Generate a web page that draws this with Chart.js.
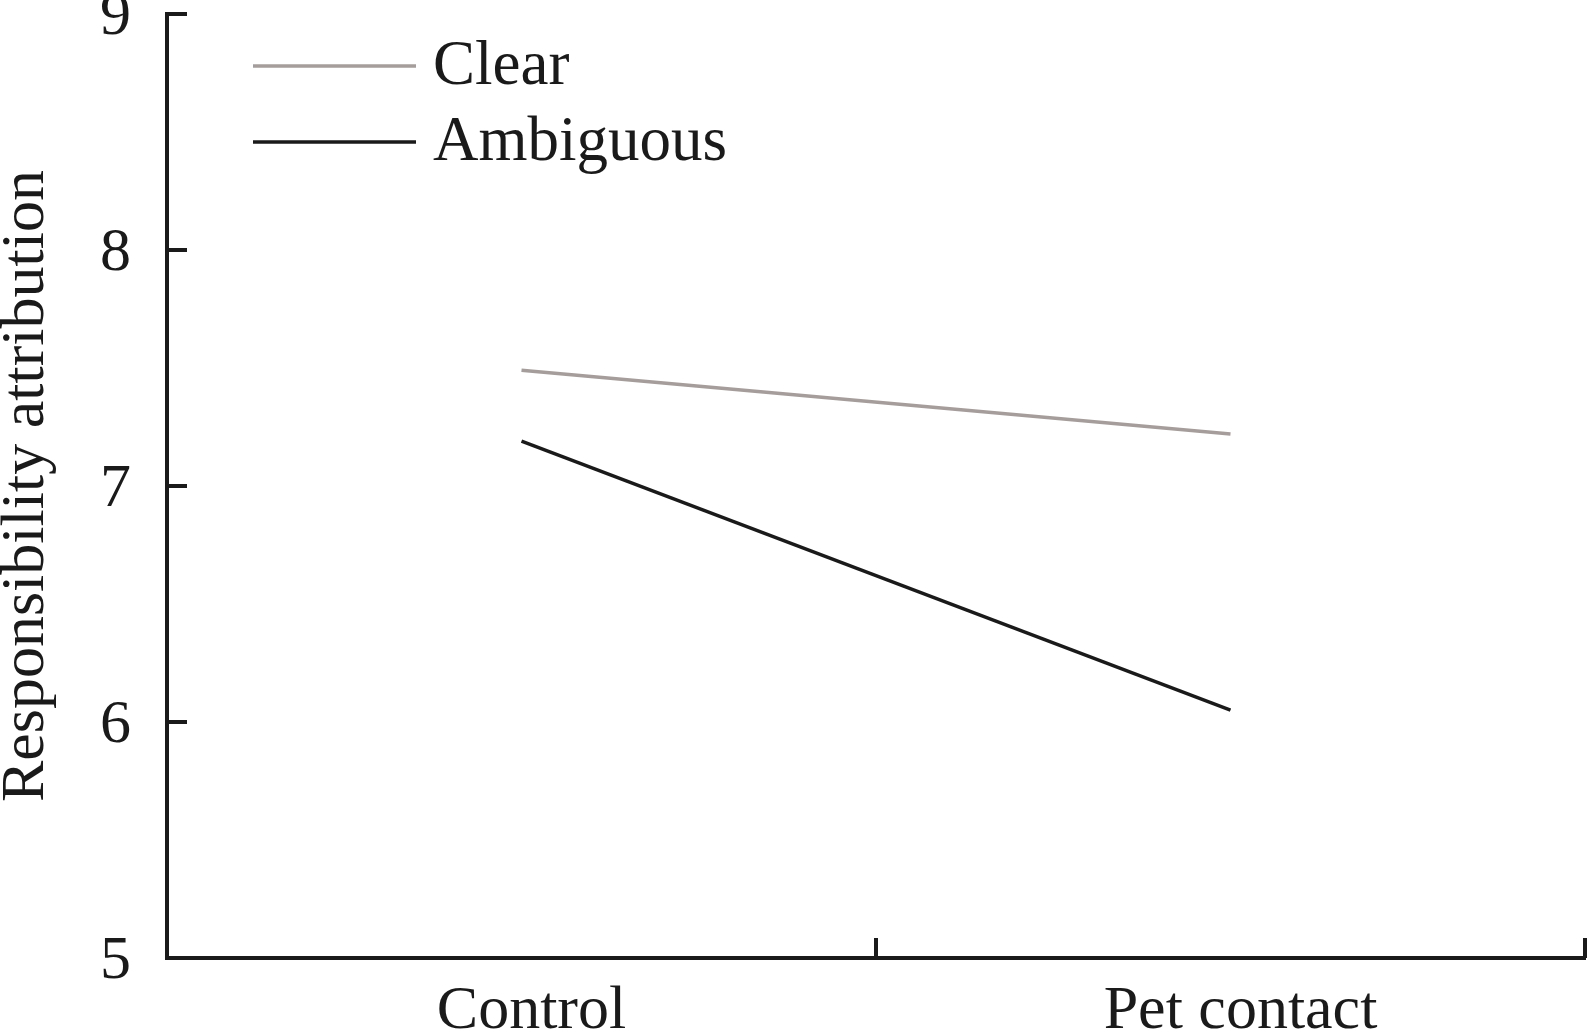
<!DOCTYPE html>
<html>
<head>
<meta charset="utf-8">
<title>Responsibility attribution</title>
<script src="https://cdn.jsdelivr.net/npm/chart.js@4.4.0/dist/chart.umd.min.js"></script>
<style>
  html, body { margin: 0; padding: 0; background: #ffffff; }
  #wrap { width: 1587px; height: 1032px; position: relative; }
</style>
</head>
<body>
<div id="wrap"><canvas id="myChart"></canvas></div>
<script>
// values
const categories = ["Control", "Pet contact"];
const clearValues = [7.49, 7.22];
const ambiguousValues = [7.19, 6.05];
const yTicks = [5, 6, 7, 8, 9];

const serif = "'Liberation Serif', 'Times New Roman', serif";
const ink = "#1a1a1a";
const clearColor = "#a59d9b";

// short ticks pointing into the plot, like the original
const innerTicks = {
  id: "innerTicks",
  afterDatasetsDraw(chart) {
    const { ctx, chartArea, scales: { x, y } } = chart;
    ctx.save();
    ctx.strokeStyle = ink;
    ctx.lineWidth = 4;
    ctx.beginPath();
    y.ticks.forEach((t) => {
      const py = y.getPixelForValue(t.value);
      ctx.moveTo(chartArea.left, py);
      ctx.lineTo(chartArea.left + 20, py);
    });
    for (let i = 1; i <= categories.length; i++) {
      const px = x.getPixelForValue(i - 0.5);
      ctx.moveTo(px, chartArea.bottom);
      ctx.lineTo(px, chartArea.bottom - 20);
    }
    ctx.stroke();
    ctx.restore();
  },
};

// legend sits inside the plot, top left
const innerLegend = {
  id: "innerLegend",
  afterDatasetsDraw(chart) {
    const { ctx } = chart;
    const rows = [66, 142];
    ctx.save();
    ctx.font = "63px " + serif;
    ctx.textBaseline = "alphabetic";
    ctx.textAlign = "left";
    chart.data.datasets.forEach((ds, i) => {
      const ly = rows[i];
      ctx.strokeStyle = ds.borderColor;
      ctx.lineWidth = ds.borderWidth;
      ctx.beginPath();
      ctx.moveTo(253, ly);
      ctx.lineTo(416, ly);
      ctx.stroke();
      ctx.fillStyle = ink;
      ctx.fillText(ds.label, 433, ly + 18);
    });
    ctx.restore();
  },
};

new Chart(document.getElementById("myChart"), {
  type: "line",
  data: {
    labels: categories,
    datasets: [
      {
        label: "Clear",
        data: clearValues,
        borderColor: clearColor,
        borderWidth: 3.5,
        pointRadius: 0,
        tension: 0,
      },
      {
        label: "Ambiguous",
        data: ambiguousValues,
        borderColor: ink,
        borderWidth: 3.5,
        pointRadius: 0,
        tension: 0,
      },
    ],
  },
  options: {
    responsive: true,
    maintainAspectRatio: false,
    devicePixelRatio: 1,
    animation: false,
    layout: { padding: { top: 14, right: 2, left: 0, bottom: 0 } },
    plugins: {
      legend: { display: false },
      tooltip: { enabled: false },
    },
    scales: {
      x: {
        type: "category",
        offset: true,
        grid: { display: false, drawTicks: false },
        border: { display: true, color: ink, width: 4 },
        ticks: {
          color: ink,
          font: { family: serif, size: 62 },
          padding: 17,
          labelOffset: 10,
          maxRotation: 0,
        },
        afterFit: (s) => {
          s.height = 74;
          s.paddingLeft = 0;
          s.paddingRight = 0;
        },
      },
      y: {
        min: 5,
        max: 9,
        grid: { display: false, drawTicks: false },
        border: { display: true, color: ink, width: 4 },
        afterBuildTicks: (s) => { s.ticks = yTicks.map((v) => ({ value: v })); },
        ticks: {
          color: ink,
          font: { family: serif, size: 62 },
          padding: 36,
          labelOffset: 4,
        },
        title: {
          display: true,
          text: "Responsibility attribution",
          color: ink,
          font: { family: serif, size: 62, lineHeight: 0.8 },
          padding: { top: 2, bottom: 0 },
        },
        afterFit: (s) => {
          s.width = 167;
          s.paddingTop = 0;
          s.paddingBottom = 0;
        },
      },
    },
  },
  plugins: [innerTicks, innerLegend],
});
</script>
</body>
</html>
